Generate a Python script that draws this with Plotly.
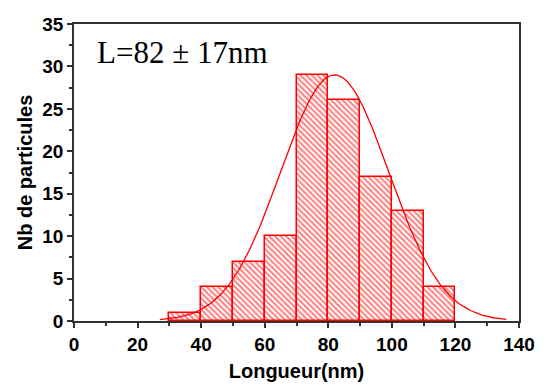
import numpy as np
import plotly.graph_objects as go

bin_left = [30, 40, 50, 60, 70, 80, 90, 100, 110]
counts = [1, 4, 7, 10, 29, 26, 17, 13, 4]
bin_width = 10

fit_mean = 82
fit_sigma = 17
fit_peak = 29
fit_start = 27
fit_end = 136

x_ticks = [0, 20, 40, 60, 80, 100, 120, 140]
y_ticks = [0, 5, 10, 15, 20, 25, 30, 35]

centers = [b + bin_width / 2 for b in bin_left]
xs = np.linspace(fit_start, fit_end, 300)
ys = fit_peak * np.exp(-((xs - fit_mean) ** 2) / (2 * fit_sigma ** 2))

fig = go.Figure()
fig.add_trace(go.Bar(
    x=centers, y=counts, width=bin_width,
    marker=dict(color="white", line=dict(color="red", width=1.5),
                pattern=dict(shape="\\", fgcolor="red", bgcolor="white", size=4, solidity=0.5)),
    showlegend=False,
))
fig.add_trace(go.Scatter(x=xs, y=ys, mode="lines", line=dict(color="red", width=1.3), showlegend=False))

fig.add_annotation(x=6.5, y=31.7, xref="x", yref="y", text="L=82 ± 17nm", showarrow=False,
                   xanchor="left", yanchor="middle",
                   font=dict(family="Liberation Serif", size=31, color="black"))

axis_font = dict(family="Liberation Sans", size=19, color="black")
title_font = dict(family="Liberation Sans", size=20, color="black")
fig.update_layout(
    width=547, height=391,
    margin=dict(l=74, r=21, t=24, b=67),
    plot_bgcolor="white", paper_bgcolor="white",
    bargap=0,
    xaxis=dict(range=[0, 140], tickvals=x_ticks, ticktext=[f"<b>{v}</b>" for v in x_ticks],
               tickfont=axis_font, ticks="outside", ticklen=5, tickwidth=1.5, tickcolor="#333",
               minor=dict(dtick=10, tick0=0, ticks="outside", ticklen=3, tickcolor="#333"),
               showline=True, linecolor="#333", linewidth=1.5, mirror=True, showgrid=False, zeroline=False,
               title=dict(text="<b>Longueur(nm)</b>", font=title_font, standoff=10)),
    yaxis=dict(range=[0, 35], tickvals=y_ticks, ticktext=[f"<b>{v}</b>" for v in y_ticks],
               tickfont=axis_font, ticks="outside", ticklen=5, tickwidth=1.5, tickcolor="#333",
               minor=dict(dtick=2.5, tick0=0, ticks="outside", ticklen=3, tickcolor="#333"),
               showline=True, linecolor="#333", linewidth=1.5, mirror=True, showgrid=False, zeroline=False,
               title=dict(text="<b>Nb de particules</b>", font=title_font, standoff=4)),
)
fig.write_html("out.html")
